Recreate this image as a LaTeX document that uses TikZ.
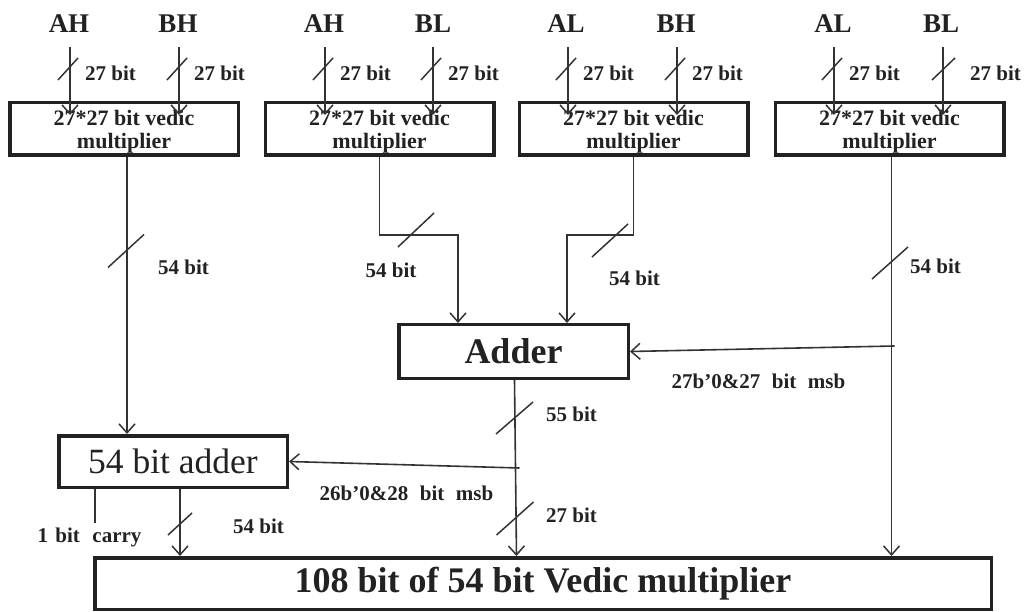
\documentclass[tikz,border=0pt]{standalone}
\usepackage{fontspec}
\setmainfont{Liberation Serif}
\usetikzlibrary{arrows.meta,calc}
\definecolor{ink}{HTML}{222222}
\definecolor{wire}{HTML}{333333}
\newcommand{\bittick}[4]{\draw[tickline] (#1,#2) ++({-#3},{#4}) -- ++({2*#3},{-2*#4});}
\begin{document}
\begin{tikzpicture}[x=1pt,y=-1pt,
  box/.style={draw=ink, line width=3.5pt, inner sep=0pt, align=center, text=ink},
  mult/.style={box, minimum width=228.5pt, minimum height=52.5pt, font=\fontsize{22}{23}\selectfont\bfseries},
  inlab/.style={font=\fontsize{27}{27}\selectfont\bfseries, text=ink, inner sep=0pt},
  lab/.style={font=\fontsize{21}{21}\selectfont\bfseries, text=ink, inner sep=0pt},
  conn/.style={draw=wire, line width=1.6pt},
  arr/.style={conn, -{Straight Barb[length=9pt,width=16pt,line width=1.5pt]}},
  tickline/.style={draw=wire, line width=1.5pt}]
\useasboundingbox (0,0) rectangle (1031,612);

% multipliers
\node[mult] (m1) at (124,129) {\rule{0pt}{21pt}27*27 bit vedic\\multiplier};
\node[mult] (m2) at (379.5,129) {\rule{0pt}{21pt}27*27 bit vedic\\multiplier};
\node[mult] (m3) at (633.5,129) {\rule{0pt}{21pt}27*27 bit vedic\\multiplier};
\node[mult] (m4) at (889.5,129) {\rule{0pt}{21pt}27*27 bit vedic\\multiplier};

% input labels
\node[inlab, anchor=south] (i1) at (69,33) {AH};
\node[inlab, anchor=south] (i2) at (178,33) {BH};
\node[inlab, anchor=south] (i3) at (324,33) {AH};
\node[inlab, anchor=south] (i4) at (433,33) {BL};
\node[inlab, anchor=south] (i5) at (566,33) {AL};
\node[inlab, anchor=south] (i6) at (676,33) {BH};
\node[inlab, anchor=south] (i7) at (833,33) {AL};
\node[inlab, anchor=south] (i8) at (941,33) {BL};

\foreach \i/\m/\dx in {1/m1/1,2/m1/1,3/m2/1,4/m2/0,5/m3/2,6/m3/1,7/m4/1,8/m4/2}{
  \draw[arr] ([xshift=\dx pt,yshift=-14pt]i\i.south) -- ([xshift=\dx pt,yshift=-14pt]i\i.south |- \m.north);
}
\foreach \x in {70,179,325,433,568,677,834}{
  \bittick{\x-2}{69}{10}{11}
  \node[lab, anchor=west] at (\x+15,73) {27 bit};
}
\bittick{943.5}{69}{11.5}{11}
\node[lab, anchor=west] (l8) at (970,73) {27 bit};

% adder
\node[box, minimum width=229.5pt, minimum height=53.5pt, font=\fontsize{36}{36}\selectfont\bfseries] (adder) at (513.5,351.5) {Adder};
% 54 bit adder
\node[box, minimum width=228.5pt, minimum height=51.5pt, font=\fontsize{35.5}{36}\selectfont] (add54) at (173,461.5) {54 bit adder};
% final
\node[box, minimum width=896.5pt, minimum height=51.5pt, font=\fontsize{36}{36}\selectfont\bfseries] (final) at (543,583.5) {108 bit of 54 bit Vedic multiplier};

% m1 -> 54 bit adder
\draw[arr] ([xshift=3pt]m1.south) -- ([xshift=3pt]m1.south |- add54.north);
\bittick{126}{251}{18}{16.5}
\node[lab, anchor=west] (l1) at (158,267) {54 bit};

% m2 -> adder
\draw[arr] (m2.south) -- ++(0,78) -| ([xshift=-55.5pt]adder.north);
\bittick{416}{230}{18}{17}
\node[lab] (l2) at (391,270) {54 bit};

% m3 -> adder
\draw[arr] (m3.south) -- ++(0,78) -| ([xshift=53.5pt]adder.north);
\bittick{610}{240.5}{18}{16.5}
\node[lab] (l3) at (634.5,278) {54 bit};

% m4 -> final, branch to adder
\draw[arr] ([xshift=2pt]m4.south) -- ([xshift=2pt]m4.south |- final.north);
\bittick{890}{263}{18}{16}
\node[lab, anchor=west] (l4) at (910,266) {54 bit};
\coordinate (j1) at ([xshift=5pt,yshift=-189pt]m4.south);
\draw[arr] (j1) -- (adder.east);
\node[lab] (l5) at (758.5,381) {27b'0\&27\hspace{0.55em}bit\hspace{0.55em}msb};

% adder -> final, branch to 54 bit adder
\draw[arr] ([xshift=1pt]adder.south) -- ([xshift=3pt]adder.south |- final.north);
\bittick{514.5}{418}{18.5}{16}
\node[lab, anchor=west] (l6) at (546,414) {55 bit};
\coordinate (j2) at ([xshift=6pt,yshift=-88pt]adder.south);
\draw[arr] (j2) -- (add54.east);
\node[lab] (l7) at (406.5,493) {26b'0\&28\hspace{0.55em}bit\hspace{0.55em}msb};
\bittick{515}{518.5}{18.5}{16.5}
\node[lab, anchor=west] (l9) at (546,515) {27 bit};

% 54 bit adder outputs
\coordinate (c1) at ([xshift=-78pt,yshift=-34pt]add54.south);
\draw[conn] ([xshift=-78pt]add54.south) -- (c1);
\node[lab] (l10) at (89.5,537) {1\hspace{0.35em}bit\hspace{0.6em}carry};
\draw[arr] ([xshift=7pt]add54.south) -- ([xshift=7pt]add54.south |- final.north);
\bittick{180}{524}{12}{11}
\node[lab] (l11) at (258.5,526) {54 bit};
\end{tikzpicture}
\end{document}
